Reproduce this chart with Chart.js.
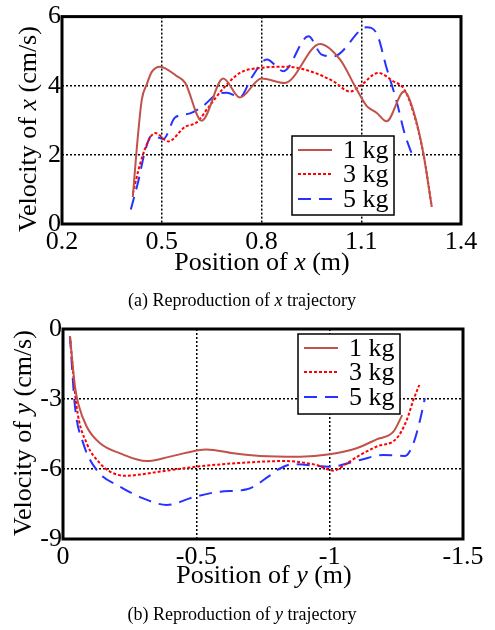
<!DOCTYPE html>
<html>
<head>
<meta charset="utf-8">
<script src="https://cdn.jsdelivr.net/npm/chart.js@4/dist/chart.umd.min.js"></script>
<style>
  body { margin: 0; background: #fff; }
  #page { position: relative; width: 495px; height: 630px; background: #fff; font-family: "Liberation Serif", "Times New Roman", serif; color: #000; }
  canvas { position: absolute; left: 0; }
  .lbl { position: absolute; transform: translate(-50%, -50%); white-space: nowrap; }
  .axis { font-size: 26px; }
  .cap { font-size: 18px; }
  .rot { transform: translate(-50%, -50%) rotate(-90deg); }
</style>
</head>
<body>
<div id="page">
  <canvas id="chartX" width="495" height="280" style="top:0"></canvas>
  <canvas id="chartY" width="495" height="280" style="top:310px"></canvas>

  <div class="lbl axis" style="left:262px; top:262px">Position of <i>x</i> (m)</div>
  <div class="lbl axis rot" style="left:28px; top:129px">Velocity of <i>x</i> (cm/s)</div>
  <div class="lbl cap" style="left:242px; top:300px">(a) Reproduction of <i>x</i> trajectory</div>

  <div class="lbl axis" style="left:264px; top:575px">Position of <i>y</i> (m)</div>
  <div class="lbl axis rot" style="left:23px; top:433px">Velocity of <i>y</i> (cm/s)</div>
  <div class="lbl cap" style="left:242px; top:614px">(b) Reproduction of <i>y</i> trajectory</div>
</div>

<script>
/* legend labels */
const massLabels = ["1 kg", "3 kg", "5 kg"];

/* (a) x trajectory: position (m) vs velocity (cm/s) */
const posX1 = [0.413, 0.425, 0.44, 0.455, 0.47, 0.495, 0.545, 0.57, 0.62, 0.685, 0.735, 0.80, 0.87, 0.976, 1.036, 1.086, 1.116, 1.146, 1.176, 1.229, 1.257, 1.287, 1.312];
const velX1 = [0.78, 2.2, 3.6, 4.04, 4.4, 4.55, 4.28, 4.09, 2.99, 4.21, 3.66, 4.21, 4.08, 5.21, 4.76, 3.9, 3.42, 3.22, 2.97, 3.83, 3.27, 2.03, 0.5];

const posX3 = [0.413, 0.435, 0.46, 0.48, 0.52, 0.57, 0.605, 0.64, 0.685, 0.735, 0.80, 0.876, 0.946, 1.016, 1.066, 1.096, 1.151, 1.196, 1.229, 1.257, 1.287, 1.312];
const velX3 = [0.88, 1.74, 2.41, 2.63, 2.39, 2.81, 2.94, 3.37, 3.92, 4.37, 4.52, 4.55, 4.42, 4.13, 3.83, 3.99, 4.37, 4.13, 3.9, 3.22, 2.03, 0.5];

const posX5 = [0.407, 0.43, 0.45, 0.47, 0.505, 0.54, 0.585, 0.625, 0.665, 0.695, 0.735, 0.77, 0.816, 0.866, 0.941, 0.981, 1.016, 1.106, 1.116, 1.146, 1.176, 1.206, 1.231, 1.252];
const velX5 = [0.42, 1.26, 2.12, 2.56, 2.46, 3.08, 3.2, 3.42, 3.75, 3.8, 3.67, 4.23, 4.76, 4.42, 5.43, 4.9, 4.85, 5.67, 5.69, 5.52, 4.52, 3.56, 2.6, 2.03];

const xTicksA = [0.2, 0.5, 0.8, 1.1, 1.4];
const yTicksA = [0, 2, 4, 6];

/* (b) y trajectory */
const posY1 = [-0.026, -0.045, -0.057, -0.089, -0.139, -0.214, -0.314, -0.401, -0.539, -0.639, -0.739, -0.889, -1.0, -1.101, -1.176, -1.239, -1.272];
const velY1 = [-0.3, -2.47, -3.19, -4.19, -4.9, -5.33, -5.66, -5.47, -5.16, -5.33, -5.44, -5.47, -5.37, -5.11, -4.73, -4.4, -3.69];

const posY3 = [-0.026, -0.051, -0.089, -0.139, -0.176, -0.232, -0.364, -0.501, -0.676, -0.826, -0.951, -1.014, -1.064, -1.114, -1.176, -1.251, -1.289, -1.314, -1.336];
const velY3 = [-0.3, -3.33, -4.9, -5.76, -6.11, -6.29, -6.11, -5.9, -5.73, -5.66, -5.83, -6.07, -5.76, -5.4, -5.04, -4.69, -3.9, -3.04, -2.4];

const posY5 = [-0.026, -0.045, -0.076, -0.126, -0.214, -0.301, -0.389, -0.489, -0.589, -0.69, -0.77, -0.81, -0.864, -1.0, -1.114, -1.201, -1.283, -1.314, -1.339, -1.357];
const velY5 = [-0.3, -3.33, -4.9, -6.04, -6.76, -7.26, -7.54, -7.21, -6.97, -6.87, -6.33, -6.0, -5.79, -5.9, -5.61, -5.4, -5.44, -4.9, -3.9, -2.97];

const xTicksB = [0, -0.5, -1, -1.5];
const yTicksB = [0, -3, -6, -9];

const serif = "'Liberation Serif', 'Times New Roman', serif";

const lineStyles = [
  { borderColor: "rgb(192, 82, 74)", borderWidth: 2, borderDash: [] },
  { borderColor: "rgb(255, 0, 0)", borderWidth: 2, borderDash: [3, 2] },
  { borderColor: "rgb(40, 50, 255)", borderWidth: 2, borderDash: [13, 8] }
];

const toPoints = (xs, ys) => xs.map((x, i) => ({ x: x, y: ys[i] }));

const makeDatasets = (series) => series.map((s, i) => ({
  label: massLabels[i],
  data: toPoints(s[0], s[1]),
  borderColor: lineStyles[i].borderColor,
  borderWidth: lineStyles[i].borderWidth,
  borderDash: lineStyles[i].borderDash,
  pointRadius: 0,
  fill: false,
  cubicInterpolationMode: "monotone"
}));

/* frame around plot + legend box inside the plot */
const framePlugin = {
  id: "frameLegend",
  afterDraw(chart, args, opts) {
    const ctx = chart.ctx;
    const a = chart.chartArea;
    ctx.save();
    ctx.setLineDash([]);
    ctx.strokeStyle = "#000";
    ctx.lineWidth = 3;
    ctx.strokeRect(a.left, a.top, a.right - a.left, a.bottom - a.top);

    // legend
    const bx = opts.left, by = opts.top;
    ctx.fillStyle = "#fff";
    ctx.fillRect(bx, by, opts.width, opts.height);
    ctx.lineWidth = 1.5;
    ctx.strokeRect(bx, by, opts.width, opts.height);
    ctx.font = "26px " + serif;
    ctx.textBaseline = "middle";
    ctx.fillStyle = "#000";
    const rows = [14, 38, 63];
    chart.data.datasets.forEach((ds, i) => {
      const y = by + rows[i];
      ctx.beginPath();
      ctx.strokeStyle = ds.borderColor;
      ctx.lineWidth = ds.borderWidth;
      ctx.setLineDash(ds.borderDash);
      ctx.moveTo(bx + 6, y);
      ctx.lineTo(bx + 40, y);
      ctx.stroke();
      ctx.setLineDash([]);
      ctx.fillText(ds.label, bx + 51, y + 1);
    });
    ctx.restore();
  }
};

const makeScale = (min, max, ticksList, width, height, reverse) => ({
  type: "linear",
  min: min,
  max: max,
  reverse: !!reverse,
  afterBuildTicks: (scale) => {
    scale.ticks = ticksList.map(v => ({ value: v }));
  },
  afterFit: (scale) => {
    if (width) scale.width = width;
    if (height) scale.height = height;
  },
  grid: {
    drawTicks: false,
    lineWidth: 1.5,
    color: (c) => (c.tick && c.tick.value !== min && c.tick.value !== max) ? "#000" : "rgba(0,0,0,0)"
  },
  border: { display: false, dash: [2, 2] },
  ticks: {
    padding: width ? 1 : 3,
    color: "#000",
    font: { family: serif, size: 26 },
    callback: (v) => String(v)
  }
});

const baseOptions = (xScale, yScale, legendBox, pad) => ({
  responsive: false,
  animation: false,
  devicePixelRatio: 1,
  layout: { padding: pad },
  plugins: {
    legend: { display: false },
    tooltip: { enabled: false },
    frameLegend: legendBox
  },
  scales: { x: xScale, y: yScale }
});

const drawCharts = () => {
  new Chart(document.getElementById("chartX").getContext("2d"), {
    type: "line",
    data: { datasets: makeDatasets([[posX1, velX1], [posX3, velX3], [posX5, velX5]]) },
    options: baseOptions(
      makeScale(0.2, 1.4, xTicksA, null, 56),
      makeScale(0, 6, yTicksA, 62, null),
      { left: 292, top: 136, width: 102, height: 79 },
      { top: 15, right: 34, left: 0, bottom: 0 }
    ),
    plugins: [framePlugin]
  });

  new Chart(document.getElementById("chartY").getContext("2d"), {
    type: "line",
    data: { datasets: makeDatasets([[posY1, velY1], [posY3, velY3], [posY5, velY5]]) },
    options: baseOptions(
      makeScale(-1.5, 0, xTicksB, null, 51, true),
      makeScale(-9, 0, yTicksB, 63, null),
      { left: 298, top: 24, width: 102, height: 80 },
      { top: 19, right: 32, left: 0, bottom: 0 }
    ),
    plugins: [framePlugin]
  });
};

document.fonts.load("26px 'Liberation Serif'").then(drawCharts, drawCharts);
</script>
</body>
</html>
